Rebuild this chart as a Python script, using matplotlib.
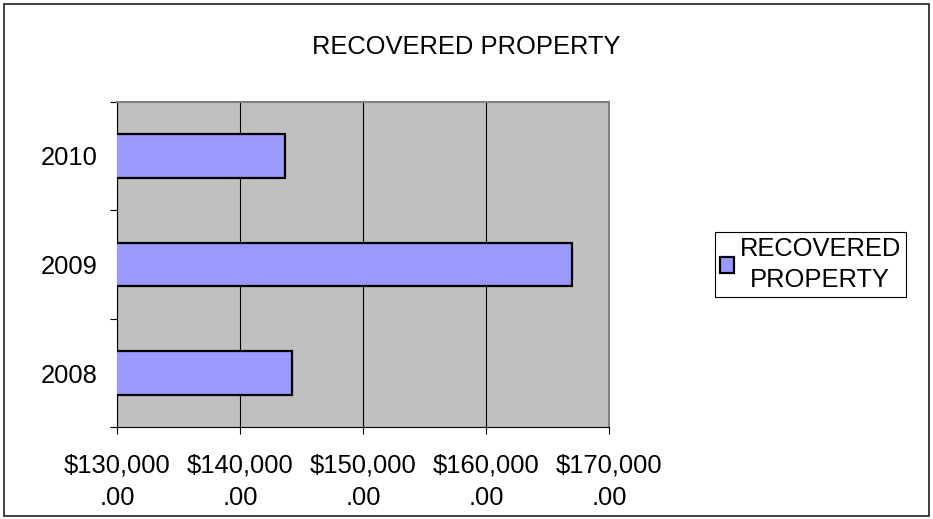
"""
Recovered property bar chart (Excel-style)
"""
import matplotlib
matplotlib.use("Agg")
import matplotlib.pyplot as plt
from matplotlib.patches import Rectangle

# Data
years = ["2008", "2009", "2010"]
recovered = [144180, 167000, 143630]
x_ticks = [130000, 140000, 150000, 160000, 170000]
x_labels = ["$130,000\n.00", "$140,000\n.00", "$150,000\n.00", "$160,000\n.00", "$170,000\n.00"]

plt.rcParams['font.family'] = ['Liberation Sans', 'DejaVu Sans']

fig = plt.figure(figsize=(9.33, 5.19), dpi=100, facecolor='white')
ax = fig.add_axes([0.1257, 0.1767, 0.527, 0.6274])
ax.set_facecolor('#C0C0C0')

positions = list(range(len(years)))
ax.barh(positions, recovered, height=0.4, left=0, color='#9999FF',
        edgecolor='black', linewidth=1.6, label='RECOVERED\nPROPERTY', zorder=3)

ax.set_xlim(x_ticks[0], x_ticks[-1])
ax.set_ylim(-0.5, len(years) - 0.5)

# Gridlines
ax.set_xticks(x_ticks)
ax.set_xticklabels(x_labels, fontsize=18.4)
for lbl in ax.get_xticklabels():
    lbl.set_linespacing(1.45)
ax.xaxis.grid(True, color='black', linewidth=0.8, zorder=1)
ax.set_axisbelow(True)

# Category ticks: labels at centres, marks at boundaries
ax.set_yticks(positions)
ax.set_yticklabels(years, fontsize=18.4)
ax.set_yticks([p - 0.5 for p in range(len(years) + 1)], minor=True)
ax.tick_params(axis='y', which='major', length=0, pad=14.5)
ax.tick_params(axis='y', which='minor', length=5, width=0.8, direction='out')
ax.tick_params(axis='x', which='major', length=5, width=0.8, direction='out', pad=14)

# Spines
ax.spines['left'].set_color('black')
ax.spines['bottom'].set_color('black')
ax.spines['left'].set_linewidth(0.8)
ax.spines['bottom'].set_linewidth(0.8)
ax.spines['top'].set_color('#808080')
ax.spines['right'].set_color('#808080')
ax.spines['top'].set_linewidth(1.5)
ax.spines['right'].set_linewidth(1.5)

# Title
fig.text(0.5, 0.909, 'RECOVERED PROPERTY', ha='center', va='center', fontsize=18.4)

# Legend
leg = ax.legend(loc='center', bbox_to_anchor=(0.8687, 0.4904), bbox_transform=fig.transFigure,
                fontsize=18.4, fancybox=False, shadow=False, framealpha=1,
                edgecolor='black', handlelength=0.55, handleheight=0.55,
                handletextpad=0.2, borderpad=0.2, borderaxespad=0)
leg.get_frame().set_linewidth(0.8)
for t in leg.get_texts():
    t.set_multialignment('center')
    t.set_linespacing(1.35)

# Outer chart border
fig.patches.append(Rectangle((4 / 933, 3 / 519), 925 / 933, 512 / 519, transform=fig.transFigure,
                             fill=False, edgecolor='#202020', linewidth=1.2))

fig.savefig('out.png', dpi=100, facecolor='white')
plt.close(fig)
